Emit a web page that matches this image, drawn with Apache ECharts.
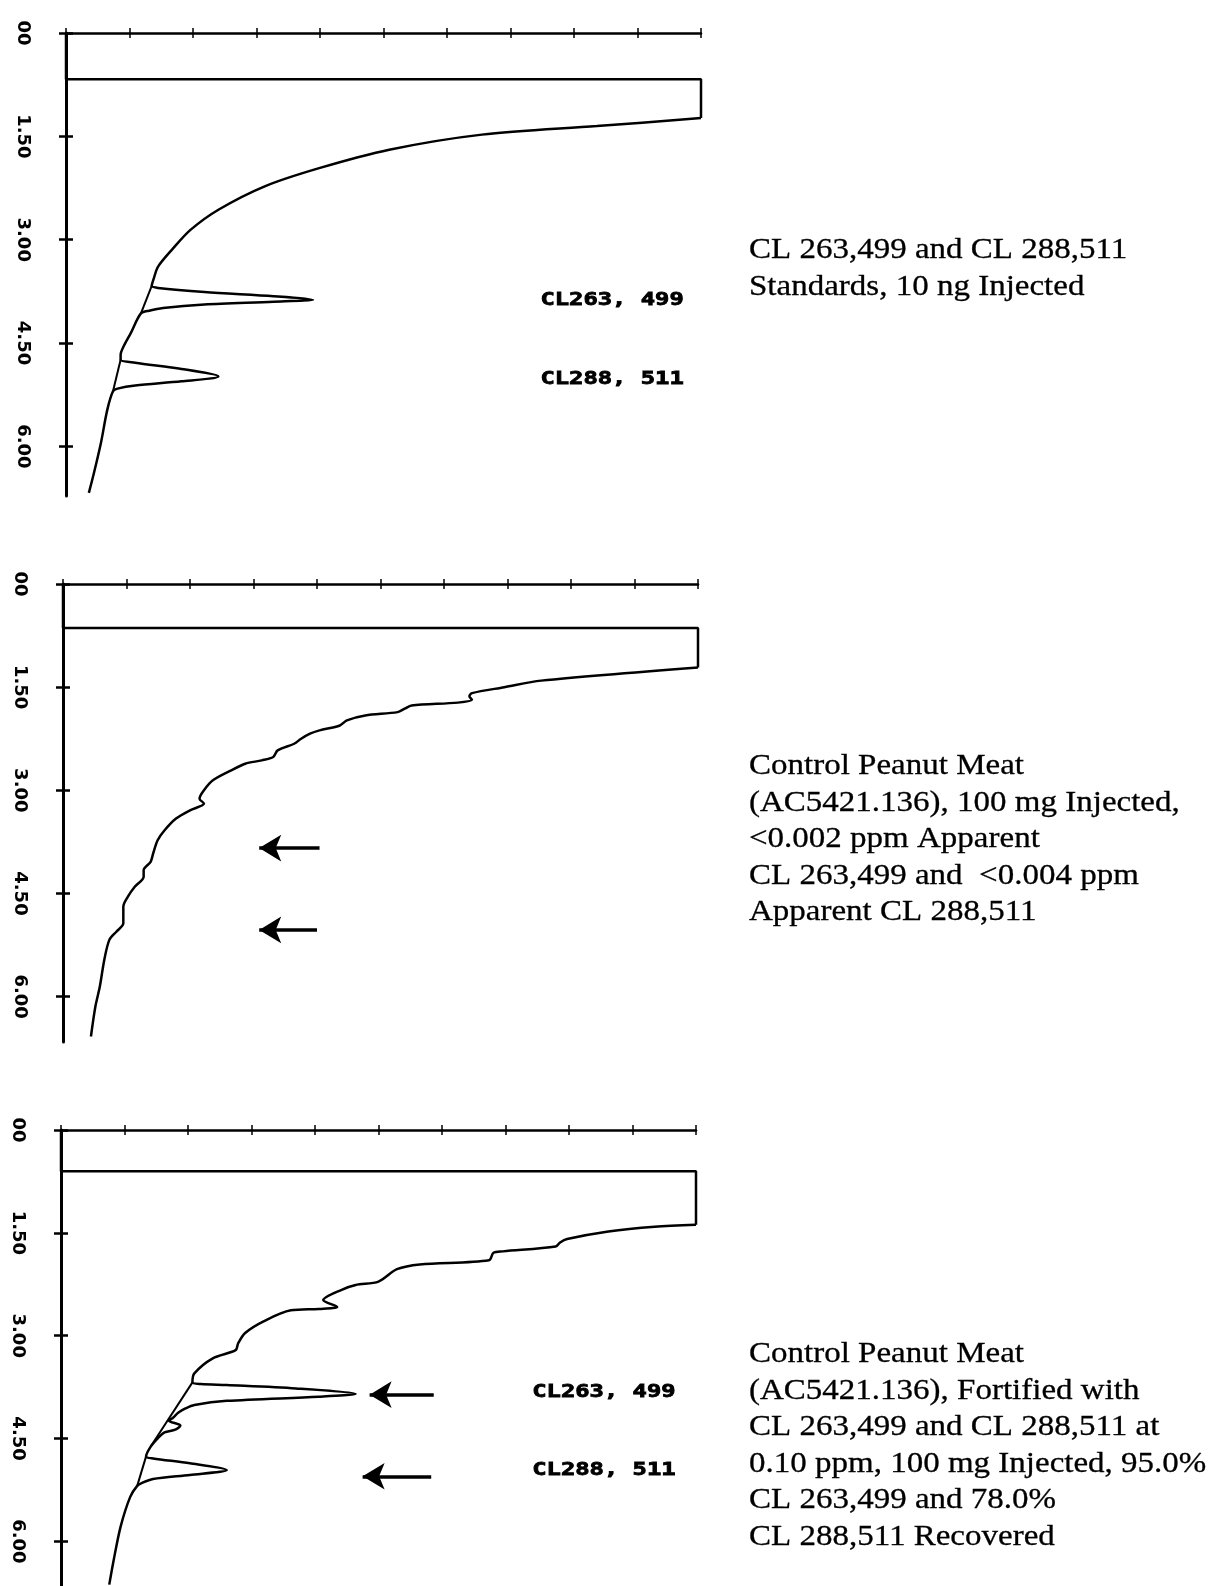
<!DOCTYPE html>
<html>
<head>
<meta charset="utf-8">
<script src="https://cdn.jsdelivr.net/npm/echarts@6/dist/echarts.min.js"></script>
<style>
  html, body { margin: 0; background: #fff; }
  #chart { width: 1222px; height: 1586px; }
</style>
</head>
<body>
<div id="chart"></div>
<script>
; (function () {
  // time axis (minutes, runs downwards) and detector axis (0..10, full scale)
  const timeTicks = [0, 1.5, 3, 4.5, 6]
  const timeTickLabels = ['00', '1.50', '3.00', '4.50', '6.00']
  const signalMin = 0
  const signalMax = 10

  // traces as [signal, minutes]; first 4 points = solvent front going off scale
  const standardsTrace = [
    [0, 0], [0, 0.67], [10, 0.67], [10, 1.235],
    [8.36, 1.351], [6.55, 1.475], [5.09, 1.694], [4.0, 1.958], [3.13, 2.225], [2.4, 2.565],
    [1.96, 2.858], [1.67, 3.144], [1.45, 3.391], [1.38, 3.57], [1.35, 3.67],
    [1.45, 3.7], [2.18, 3.76], [3.27, 3.82], [3.89, 3.87], [3.27, 3.9], [2.18, 3.94],
    [1.53, 3.99], [1.31, 4.03], [1.18, 4.07],
    [1.02, 4.355], [0.91, 4.543], [0.86, 4.672], [0.86, 4.742],
    [1.09, 4.786], [1.82, 4.876], [2.4, 4.985], [1.82, 5.056], [1.09, 5.116], [0.81, 5.162], [0.74, 5.2],
    [0.65, 5.47], [0.55, 5.95], [0.44, 6.386], [0.36, 6.675]
  ]
  const controlTrace = [
    [0, 0], [0, 0.64], [10, 0.64], [10, 1.213],
    [7.53, 1.405], [6.95, 1.501], [6.44, 1.587], [6.4, 1.632], [6.44, 1.684], [6.22, 1.725],
    [5.49, 1.766], [5.38, 1.814], [5.27, 1.863], [4.76, 1.912], [4.47, 1.983], [4.36, 2.057],
    [4.04, 2.129], [3.89, 2.177], [3.75, 2.25], [3.64, 2.323], [3.38, 2.42], [3.31, 2.516],
    [3.13, 2.565], [2.87, 2.613], [2.65, 2.709], [2.36, 2.855], [2.22, 3.0], [2.15, 3.121],
    [2.22, 3.193], [2.0, 3.291], [1.78, 3.411], [1.6, 3.581], [1.49, 3.726], [1.42, 3.919],
    [1.38, 4.04], [1.27, 4.161], [1.27, 4.258], [1.13, 4.403], [1.02, 4.548], [0.95, 4.693],
    [0.95, 4.935], [0.84, 5.056], [0.73, 5.175], [0.65, 5.466], [0.58, 5.854], [0.51, 6.144], [0.44, 6.58]
  ]
  const fortifiedTrace = [
    [0, 0], [0, 0.6], [10, 0.6], [10, 1.38],
    [9.35, 1.41], [8.62, 1.48], [7.97, 1.59], [7.86, 1.64], [7.79, 1.7], [6.96, 1.77], [6.81, 1.79],
    [6.74, 1.9], [5.65, 1.96], [5.29, 2.03], [5.0, 2.21], [4.64, 2.26], [4.42, 2.33], [4.13, 2.48],
    [4.35, 2.58], [4.06, 2.61], [3.62, 2.63], [3.19, 2.79], [2.9, 2.96], [2.79, 3.11], [2.75, 3.21],
    [2.39, 3.33], [2.1, 3.55], [2.07, 3.68],
    [2.2, 3.705], [2.61, 3.72], [3.7, 3.77], [4.64, 3.85], [4.06, 3.89], [2.61, 3.95], [2.1, 4.01],
    [1.96, 4.06], [1.85, 4.12], [1.76, 4.2], [1.7, 4.24], [1.88, 4.31], [1.8, 4.37], [1.63, 4.41],
    [1.52, 4.5], [1.41, 4.62], [1.34, 4.76],
    [1.45, 4.79], [2.03, 4.86], [2.61, 4.96], [2.03, 5.03], [1.45, 5.09], [1.27, 5.15], [1.2, 5.19],
    [1.09, 5.35], [0.94, 5.78], [0.83, 6.27], [0.76, 6.63]
  ]

  // integrator baselines under the peaks
  const standardsBaselines = [[[1.35, 3.67], [1.18, 4.07]], [[0.86, 4.742], [0.74, 5.2]]]
  const fortifiedBaselines = [[[2.07, 3.68], [1.41, 4.62]], [[1.34, 4.76], [1.2, 5.19]]]

  // arrows: [tail signal, head signal, minutes]
  const controlArrows = [[4.04, 3.09, 3.84], [4.0, 3.09, 5.03]]
  const fortifiedArrows = [[5.87, 4.86, 3.86], [5.83, 4.75, 5.05]]

  const peakNames = ['CL263, 499', 'CL288, 511']
  const standardsPeakLabelAt = [[8.6, 3.88], [8.6, 5.03]]
  const fortifiedPeakLabelAt = [[8.55, 3.83], [8.55, 4.96]]

  const captions = [
    ['CL 263,499 and CL 288,511', 'Standards, 10 ng Injected'],
    ['Control Peanut Meat', '(AC5421.136), 100 mg Injected,', '<0.002 ppm Apparent',
      'CL 263,499 and  <0.004 ppm', 'Apparent CL 288,511'],
    ['Control Peanut Meat', '(AC5421.136), Fortified with', 'CL 263,499 and CL 288,511 at',
      '0.10 ppm, 100 mg Injected, 95.0%', 'CL 263,499 and 78.0%', 'CL 288,511 Recovered']
  ]

  const panels = [
    { grid: { left: 66, top: 33, width: 635, height: 463 }, tMax: 6.72, trace: standardsTrace,
      baselines: standardsBaselines, arrows: [], labels: standardsPeakLabelAt, captionTop: 232 },
    { grid: { left: 63, top: 584, width: 635, height: 458 }, tMax: 6.66, trace: controlTrace,
      baselines: [], arrows: controlArrows, labels: [], captionTop: 748 },
    { grid: { left: 61, top: 1130, width: 635, height: 456 }, tMax: 6.65, trace: fortifiedTrace,
      baselines: fortifiedBaselines, arrows: fortifiedArrows, labels: fortifiedPeakLabelAt, captionTop: 1336 }
  ]

  const ink = '#000'
  const option = {
    animation: false,
    backgroundColor: '#fff',
    grid: panels.map(p => p.grid),
    xAxis: [],
    yAxis: [],
    series: [],
    graphic: []
  }

  panels.forEach((p, i) => {
    // two copies of each axis so the ticks cross the axis line
    [false, true].forEach(inside => {
      option.xAxis.push({
        gridIndex: i, type: 'value', min: signalMin, max: signalMax, interval: 1, position: 'top',
        axisLine: { show: !inside, onZero: false, lineStyle: { color: ink, width: 2.5 } },
        axisTick: { show: true, inside: inside, length: 5, lineStyle: { color: ink, width: 1.5 } },
        axisLabel: { show: false },
        splitLine: { show: false }
      })
      option.yAxis.push({
        gridIndex: i, type: 'value', inverse: true, min: 0, max: p.tMax, position: 'left',
        axisLine: { show: !inside, onZero: false, lineStyle: { color: ink, width: 3 } },
        axisTick: { show: true, inside: inside, length: 7, customValues: timeTicks, lineStyle: { color: ink, width: 2.5 } },
        axisLabel: {
          show: !inside, customValues: timeTicks, rotate: -90, margin: 34,
          fontFamily: 'DejaVu Sans', fontWeight: 'bold', fontSize: 18, color: ink,
          formatter: v => timeTickLabels[timeTicks.findIndex(t => Math.abs(t - v) < 1e-6)]
        },
        splitLine: { show: false }
      })
    })

    const axes = { xAxisIndex: 2 * i, yAxisIndex: 2 * i }
    option.series.push(Object.assign({
      type: 'line', data: p.trace.slice(0, 4), showSymbol: false, silent: true,
      lineStyle: { color: ink, width: 2.5 },
      markLine: {
        silent: true, animation: false, label: { show: false }, emphasis: { disabled: true },
        lineStyle: { color: ink, width: 3.5, type: 'solid' }, symbolSize: [20, 22],
        data: p.arrows.map(a => [
          { coord: [a[0], a[2]], symbol: 'none' },
          { coord: [a[1], a[2]], symbol: 'arrow' }
        ])
      }
    }, axes))
    p.tailSeries = option.series.length
    option.series.push(Object.assign({
      type: 'line', data: p.trace.slice(3), showSymbol: false, silent: true,
      smooth: 0.3,
      lineStyle: { color: ink, width: 2.5 },
      markLine: {
        silent: true, animation: false, symbol: 'none', label: { show: false }, emphasis: { disabled: true },
        lineStyle: { color: ink, width: 2, type: 'solid' },
        data: p.baselines.map(seg => [{ coord: seg[0] }, { coord: seg[1] }])
      }
    }, axes))

    option.graphic.push({
      type: 'text', x: 749, y: p.captionTop, scaleX: 1.1, silent: true,
      style: {
        text: captions[i].join('\n'), fill: ink, stroke: ink, lineWidth: 0.3,
        fontFamily: 'Liberation Serif', fontSize: 30,
        lineHeight: 36.5, align: 'left', verticalAlign: 'top'
      }
    })
  })

  const myChart = echarts.init(document.getElementById('chart'))
  myChart.setOption(option)

  // peak names in the recorder's wide bold print
  const peakTexts = []
  panels.forEach(p => {
    p.labels.forEach((pos, k) => {
      const pt = myChart.convertToPixel({ seriesIndex: p.tailSeries }, pos)
      peakTexts.push({
        type: 'text', x: pt[0], y: pt[1], scaleX: 1.4, silent: true,
        style: {
          text: peakNames[k], fill: ink, stroke: ink, lineWidth: 0.8,
          fontFamily: 'DejaVu Sans Mono', fontWeight: 'bold',
          fontSize: 17, align: 'center', verticalAlign: 'middle'
        }
      })
    })
  })
  myChart.setOption({ graphic: option.graphic.concat(peakTexts) })
})()
</script>
</body>
</html>
